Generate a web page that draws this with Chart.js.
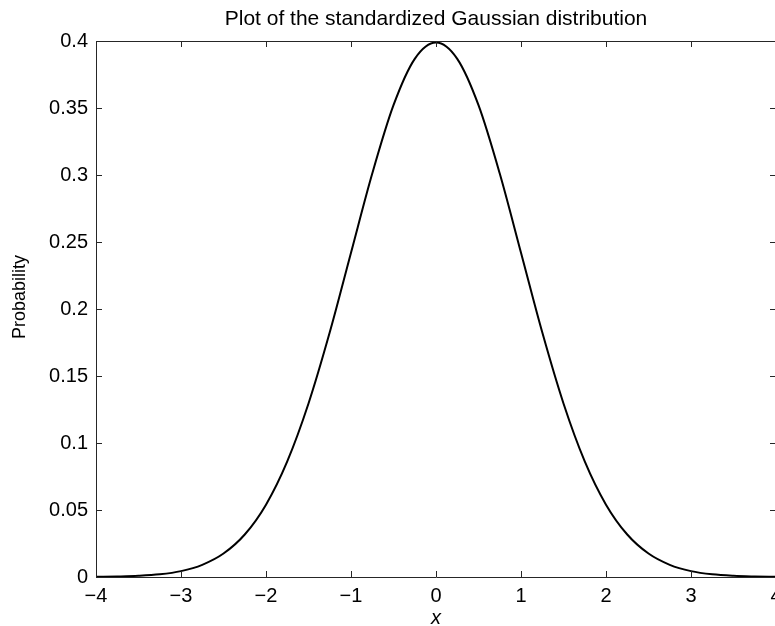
<!DOCTYPE html>
<html>
<head>
<meta charset="utf-8">
<script src="https://cdn.jsdelivr.net/npm/chart.js@4.4.0/dist/chart.umd.min.js"></script>
<style>
  html, body { margin: 0; padding: 0; background: #fff; overflow: hidden; }
  #wrap { position: relative; width: 790px; height: 626px; }
</style>
</head>
<body>
<div id="wrap"><canvas id="c"></canvas></div>
<script>
// Data
const xValues = [-4, -3.75, -3.5, -3.25, -3, -2.75, -2.5, -2.25, -2, -1.75, -1.5, -1.25, -1, -0.75, -0.5, -0.25,
                 0, 0.25, 0.5, 0.75, 1, 1.25, 1.5, 1.75, 2, 2.25, 2.5, 2.75, 3, 3.25, 3.5, 3.75, 4];
const probValues = [0.0001, 0.0004, 0.0009, 0.0020, 0.0044, 0.0091, 0.0175, 0.0317, 0.0540, 0.0863, 0.1295, 0.1826,
                    0.2420, 0.3011, 0.3521, 0.3867, 0.3989, 0.3867, 0.3521, 0.3011, 0.2420, 0.1826, 0.1295, 0.0863,
                    0.0540, 0.0317, 0.0175, 0.0091, 0.0044, 0.0020, 0.0009, 0.0004, 0.0001];
const xTicks = [-4, -3, -2, -1, 0, 1, 2, 3, 4];
const yTicks = [0, 0.05, 0.1, 0.15, 0.2, 0.25, 0.3, 0.35, 0.4];
const titleText = 'Plot of the standardized Gaussian distribution';
const xTitle = 'x';
const yTitle = 'Probability';

const FONT = '"Liberation Sans", Arial, Helvetica, sans-serif';
const points = xValues.map((x, i) => ({ x: x, y: probValues[i] }));

const boxPlugin = {
  id: 'boxTicks',
  afterDraw(chart) {
    const ctx = chart.ctx;
    const a = chart.chartArea;
    const xs = chart.scales.x, ys = chart.scales.y;
    const L = 6;
    ctx.save();
    ctx.strokeStyle = '#262626';
    ctx.lineWidth = 1;
    ctx.beginPath();
    ctx.rect(Math.round(a.left) + 0.5, Math.round(a.top) + 0.5, Math.round(a.right - a.left), Math.round(a.bottom - a.top));
    xTicks.forEach(v => {
      const px = Math.round(xs.getPixelForValue(v)) + 0.5;
      ctx.moveTo(px, a.bottom); ctx.lineTo(px, a.bottom - L);
      ctx.moveTo(px, a.top); ctx.lineTo(px, a.top + L);
    });
    yTicks.forEach(v => {
      const py = Math.round(ys.getPixelForValue(v)) + 0.5;
      ctx.moveTo(a.left, py); ctx.lineTo(a.left + L, py);
      ctx.moveTo(a.right, py); ctx.lineTo(a.right - L, py);
    });
    ctx.stroke();

    // Titles
    ctx.fillStyle = '#000';
    const cx = (a.left + a.right) / 2;
    ctx.textAlign = 'center';
    ctx.textBaseline = 'alphabetic';
    ctx.font = '21px ' + FONT;
    ctx.fillText(titleText, cx, 25);

    ctx.font = 'italic 20px ' + FONT;
    ctx.textBaseline = 'middle';
    ctx.fillText(xTitle, cx, 618);

    ctx.save();
    ctx.translate(20, (a.top + a.bottom) / 2 - 12);
    ctx.rotate(-Math.PI / 2);
    ctx.font = '18px ' + FONT;
    ctx.textBaseline = 'middle';
    ctx.fillText(yTitle, 0, 0);
    ctx.restore();

    ctx.restore();
  }
};

new Chart(document.getElementById('c'), {
  type: 'line',
  data: {
    datasets: [{
      data: points,
      borderColor: '#000',
      borderWidth: 2,
      pointRadius: 0,
      fill: false,
      cubicInterpolationMode: 'monotone'
    }]
  },
  options: {
    responsive: true,
    maintainAspectRatio: false,
    animation: false,
    layout: { padding: { left: 0, right: 14, top: 41, bottom: 0 } },
    plugins: {
      legend: { display: false },
      tooltip: { enabled: false },
      title: { display: false }
    },
    scales: {
      x: {
        type: 'linear',
        min: -4, max: 4,
        afterBuildTicks: s => { s.ticks = xTicks.map(v => ({ value: v })); },
        afterFit: s => { s.height = 49; },
        grid: { display: false, drawTicks: false },
        border: { display: false },
        ticks: {
          color: '#000',
          padding: 7,
          maxRotation: 0,
          autoSkip: false,
          font: { family: FONT, size: 20 },
          callback: v => (v < 0 ? '\u2212' + Math.abs(v) : String(v))
        }
      },
      y: {
        type: 'linear',
        min: 0, max: 0.4,
        afterBuildTicks: s => { s.ticks = yTicks.map(v => ({ value: v })); },
        afterFit: s => { s.width = 96; },
        grid: { display: false, drawTicks: false },
        border: { display: false },
        ticks: {
          color: '#000',
          padding: 8,
          autoSkip: false,
          font: { family: FONT, size: 20 },
          callback: v => String(Math.round(v * 100) / 100)
        }
      }
    }
  },
  plugins: [boxPlugin]
});
</script>
</body>
</html>
